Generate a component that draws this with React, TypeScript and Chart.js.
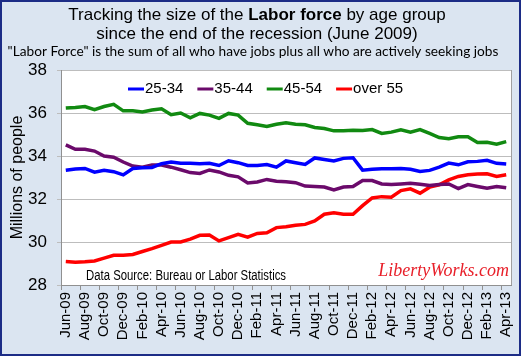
import React, { useEffect, useRef } from "react";
import { Chart, registerables } from "chart.js";

Chart.register(...registerables);

const months = [
  "Jun-09", "Jul-09", "Aug-09", "Sep-09", "Oct-09", "Nov-09", "Dec-09",
  "Jan-10", "Feb-10", "Mar-10", "Apr-10", "May-10", "Jun-10", "Jul-10", "Aug-10", "Sep-10", "Oct-10", "Nov-10", "Dec-10",
  "Jan-11", "Feb-11", "Mar-11", "Apr-11", "May-11", "Jun-11", "Jul-11", "Aug-11", "Sep-11", "Oct-11", "Nov-11", "Dec-11",
  "Jan-12", "Feb-12", "Mar-12", "Apr-12", "May-12", "Jun-12", "Jul-12", "Aug-12", "Sep-12", "Oct-12", "Nov-12", "Dec-12",
  "Jan-13", "Feb-13", "Mar-13", "Apr-13",
];

const age25to34 = [
  33.34, 33.4, 33.42, 33.25, 33.34, 33.27, 33.12, 33.42, 33.45, 33.47,
  33.64, 33.72, 33.66, 33.66, 33.64, 33.66, 33.56, 33.78, 33.69, 33.56,
  33.56, 33.6, 33.48, 33.77, 33.69, 33.61, 33.91, 33.84, 33.77, 33.89,
  33.92, 33.34, 33.38, 33.41, 33.41, 33.42, 33.38, 33.28, 33.33, 33.48,
  33.67, 33.59, 33.73, 33.75, 33.8, 33.66, 33.63,
];

const age35to44 = [
  34.52, 34.31, 34.31, 34.23, 34.0, 33.94, 33.72, 33.53, 33.48, 33.58,
  33.58, 33.48, 33.36, 33.23, 33.19, 33.35, 33.26, 33.1, 33.03, 32.75,
  32.79, 32.91, 32.83, 32.8, 32.76, 32.6, 32.58, 32.56, 32.42, 32.56,
  32.58, 32.86, 32.86, 32.7, 32.67, 32.7, 32.73, 32.69, 32.63, 32.67,
  32.7, 32.48, 32.67, 32.58, 32.5, 32.58, 32.52,
];

const age45to54 = [
  36.23, 36.26, 36.3, 36.15, 36.3, 36.4, 36.1, 36.1, 36.05, 36.14,
  36.2, 35.92, 36.0, 35.78, 35.98, 35.9, 35.75, 35.98, 35.9, 35.52,
  35.45, 35.37, 35.48, 35.55, 35.48, 35.45, 35.33, 35.28, 35.17, 35.17,
  35.2, 35.19, 35.23, 35.05, 35.11, 35.22, 35.11, 35.23, 35.05, 34.86,
  34.8, 34.89, 34.9, 34.63, 34.64, 34.55, 34.67,
];

const over55 = [
  29.09, 29.06, 29.08, 29.12, 29.25, 29.38, 29.38, 29.42, 29.56, 29.69,
  29.84, 30.0, 30.0, 30.13, 30.31, 30.33, 30.05, 30.2, 30.36, 30.23,
  30.4, 30.43, 30.67, 30.71, 30.78, 30.82, 30.98, 31.29, 31.36, 31.29,
  31.29, 31.69, 32.05, 32.11, 32.08, 32.39, 32.47, 32.27, 32.55, 32.66,
  32.89, 33.05, 33.13, 33.16, 33.17, 33.05, 33.13,
];

const seriesLabels = ["25-34", "35-44", "45-54", "over 55"];
const seriesColors = ["#0000ff", "#6b0a6b", "#118a11", "#ff0000"];

const titleParts = [
  { text: "Tracking the size of the ", bold: false },
  { text: "Labor force", bold: true },
  { text: " by age group", bold: false },
];
const titleLine2 = "since the end of the recession (June 2009)";
const subtitle = '"Labor Force" is the sum of all who have jobs plus all who are actively seeking jobs';
const sourceNote = "Data Source: Bureau or Labor Statistics";
const watermark = "LibertyWorks.com";

const SANS = '"Liberation Sans", Arial, sans-serif';

const framePlugin = {
  id: "frame",
  beforeDraw(chart: any) {
    const { ctx, chartArea } = chart;
    ctx.save();
    ctx.fillStyle = "#ffffff";
    ctx.fillRect(0, 0, chart.width, chart.height);
    ctx.fillStyle = "#dbe5f1";
    ctx.fillRect(0, 0, 521, 356);
    ctx.strokeStyle = "#1c2c86";
    ctx.lineWidth = 2;
    ctx.strokeRect(1, 1, 519, 354);
    ctx.fillStyle = "#ffffff";
    ctx.fillRect(chartArea.left, chartArea.top, chartArea.right - chartArea.left, chartArea.bottom - chartArea.top);
    ctx.restore();
  },
  afterDraw(chart: any) {
    const { ctx, chartArea } = chart;
    ctx.save();
    ctx.strokeStyle = "#a0a0a0";
    ctx.lineWidth = 1;
    ctx.beginPath();
    ctx.moveTo(Math.round(chartArea.right) + 0.5, chartArea.top);
    ctx.lineTo(Math.round(chartArea.right) + 0.5, chartArea.bottom);
    ctx.stroke();

    // Title
    ctx.fillStyle = "#000";
    ctx.textBaseline = "alphabetic";
    let total = 0;
    const widths: number[] = [];
    titleParts.forEach((p) => {
      ctx.font = `${p.bold ? "bold " : ""}17px ${SANS}`;
      const w = ctx.measureText(p.text).width;
      widths.push(w);
      total += w;
    });
    let x = 257 - total / 2;
    titleParts.forEach((p, i) => {
      ctx.font = `${p.bold ? "bold " : ""}17px ${SANS}`;
      ctx.textAlign = "left";
      ctx.fillText(p.text, x, 20);
      x += widths[i];
    });
    ctx.font = `17px ${SANS}`;
    ctx.textAlign = "center";
    ctx.fillText(titleLine2, 257, 39);

    // Subtitle, sized to span the same width as the reference
    ctx.font = `13px Lato, "Noto Sans", sans-serif`;
    const sw = ctx.measureText(subtitle).width;
    const fs = (13 * 491) / sw;
    ctx.font = `${fs.toFixed(2)}px Lato, "Noto Sans", sans-serif`;
    ctx.fillText(subtitle, 253, 56);

    // Legend
    ctx.font = `15px ${SANS}`;
    ctx.textAlign = "left";
    ctx.textBaseline = "middle";
    let lx = 128;
    const ly = 89;
    chart.data.datasets.forEach((ds: any) => {
      ctx.strokeStyle = ds.borderColor;
      ctx.lineWidth = 3;
      ctx.beginPath();
      ctx.moveTo(lx, ly);
      ctx.lineTo(lx + 16, ly);
      ctx.stroke();
      ctx.fillStyle = "#000";
      ctx.fillText(ds.label, lx + 17, ly);
      lx += 17 + ctx.measureText(ds.label).width + 14;
    });

    // Source note (condensed)
    ctx.textBaseline = "alphabetic";
    ctx.font = `14px ${SANS}`;
    ctx.fillStyle = "#000";
    const nw = ctx.measureText(sourceNote).width;
    ctx.save();
    ctx.translate(86, 280);
    ctx.scale(200 / nw, 1);
    ctx.fillText(sourceNote, 0, 0);
    ctx.restore();

    // Watermark
    ctx.font = `italic 18px "Liberation Serif", "DejaVu Serif", serif`;
    ctx.fillStyle = "#e8202a";
    ctx.textAlign = "right";
    ctx.fillText(watermark, 509, 276);
    ctx.restore();
  },
};

export default function App() {
  const ref = useRef<HTMLCanvasElement | null>(null);

  useEffect(() => {
    if (!ref.current) return;
    const data = [age25to34, age35to44, age45to54, over55];
    const chart = new Chart(ref.current, {
      type: "line",
      data: {
        labels: months,
        datasets: data.map((d, i) => ({
          label: seriesLabels[i],
          data: d,
          borderColor: seriesColors[i],
          backgroundColor: seriesColors[i],
          borderWidth: 3.5,
          pointRadius: 0,
          tension: 0,
          fill: false,
        })),
      },
      options: {
        animation: false,
        responsive: false,
        devicePixelRatio: 1,
        layout: { padding: { top: 70, right: 19, left: 0, bottom: 0 } },
        plugins: {
          legend: { display: false },
          title: { display: false },
          tooltip: { enabled: false },
        },
        scales: {
          x: {
            type: "category",
            offset: true,
            grid: {
              offset: true,
              drawOnChartArea: false,
              drawTicks: true,
              tickLength: 5,
              color: (c: any) => (c.index % 2 === 0 ? "#909090" : "rgba(0,0,0,0)"),
            },
            border: { color: "#909090" },
            ticks: {
              autoSkip: false,
              maxRotation: 90,
              minRotation: 90,
              padding: 2,
              color: "#000",
              font: { family: SANS, size: 15 },
              callback: (_v: any, i: number) => (i % 2 === 0 ? months[i] : ""),
            },
            afterFit: (s: any) => {
              s.height = 72;
            },
          },
          y: {
            min: 28,
            max: 38,
            ticks: {
              stepSize: 2,
              padding: 10,
              color: "#000",
              font: { family: SANS, size: 17 },
            },
            grid: { color: "#bdbdbd", tickLength: 4 },
            border: { color: "#909090" },
            title: {
              display: true,
              text: "Millions of people",
              color: "#000",
              font: { family: SANS, size: 16 },
              padding: { top: 8, bottom: 0 },
            },
            afterFit: (s: any) => {
              s.width = 61;
            },
          },
        },
      },
      plugins: [framePlugin],
    });
    return () => chart.destroy();
  }, []);

  return (
    <div style={{ position: "absolute", left: 0, top: 0, width: 530, height: 357 }}>
      <canvas ref={ref} width={530} height={357} style={{ display: "block" }} />
    </div>
  );
}
